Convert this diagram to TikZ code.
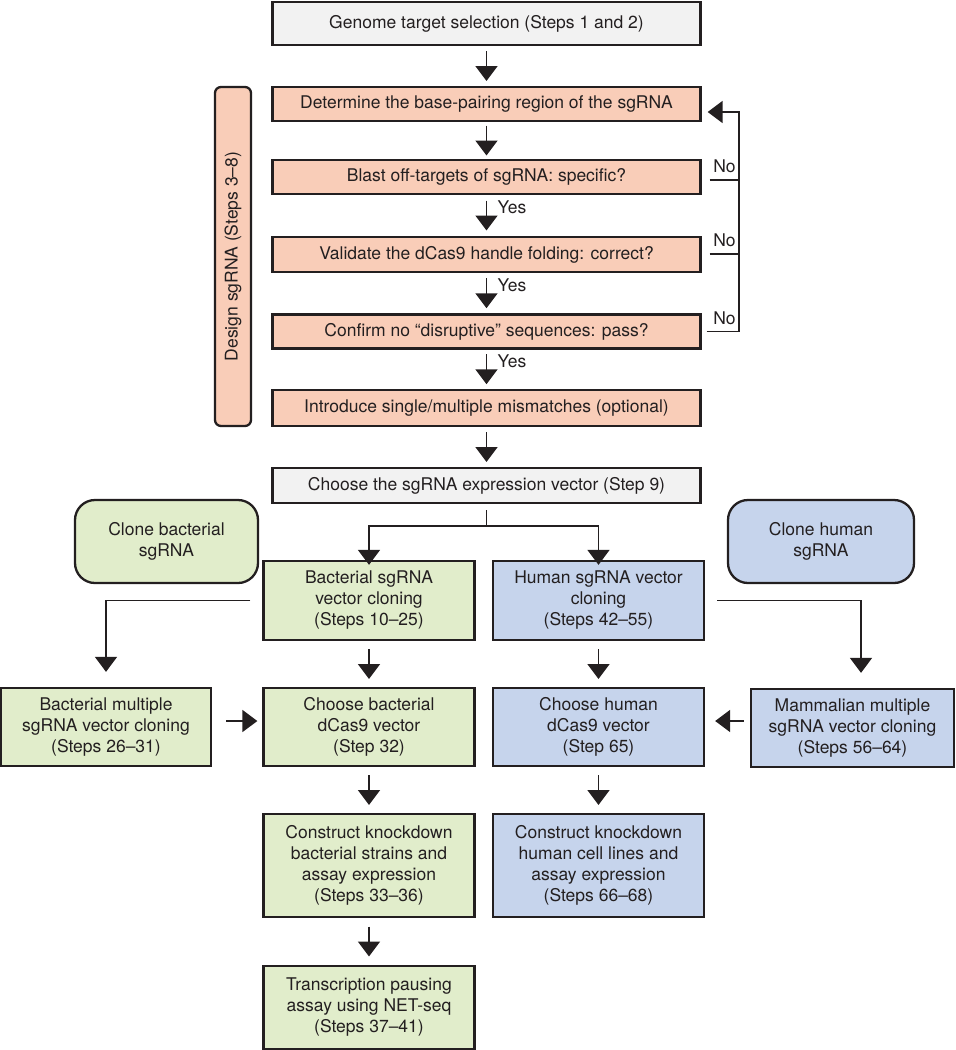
\documentclass[tikz,border=0pt]{standalone}
\usepackage{fontspec}
\setmainfont{TeX Gyre Heros}
\usetikzlibrary{arrows.meta,calc}
\definecolor{bordc}{HTML}{231F20}
\definecolor{grayf}{HTML}{F2F2F2}
\definecolor{salm}{HTML}{F9CDB8}
\definecolor{grn}{HTML}{E1EDCB}
\definecolor{blu}{HTML}{C6D4EC}
\newcommand\varr[2]{\draw[arr] ($(#1.south)!.5!(#2.north)+(0,-15)$) -- ($(#1.south)!.5!(#2.north)+(0,15)$);}
\newcommand\varrl[4]{\draw[arr] ($(#1.south)!.5!(#2.north)+(0,-15)$) coordinate (#4c) -- ($(#1.south)!.5!(#2.north)+(0,15)$);
  \node[anchor=west, inner sep=0pt] (#4) at ($(#4c)+(11,6.5)$) {#3};}
\begin{document}
\begin{tikzpicture}[x=1pt,y=-1pt,
  every node/.style={font=\fontsize{17.5}{21}\selectfont, text=bordc},
  box/.style={draw=bordc, line width=2.3pt, inner sep=0pt, align=center},
  wide/.style={box, minimum width=428pt},
  col/.style={box, minimum width=211pt},
  line/.style={draw=bordc, line width=1.8pt},
  arr/.style={line, -{Triangle[width=22pt,length=15pt]}},
  nolab/.style={anchor=south west, inner sep=0pt},
]
\useasboundingbox (0,0) rectangle (956,1050);

% main column
\node[wide, fill=grayf, minimum height=43pt] (top) at (486.5,23.5) {Genome target selection (Steps 1 and 2)};
\node[wide, fill=salm, minimum height=34pt] (det) at (486.5,104) {Determine the base-pairing region of the sgRNA};
\node[wide, fill=salm, minimum height=34pt] (blast) at (486.5,177) {Blast off-targets of sgRNA: specific?};
\node[wide, fill=salm, minimum height=35pt] (valid) at (486.5,254.5) {Validate the dCas9 handle folding: correct?};
\node[wide, fill=salm, minimum height=34pt] (confirm) at (486.5,331.5) {Confirm no “disruptive” sequences: pass?};
\node[wide, fill=salm, minimum height=36pt] (intro) at (486.5,408) {Introduce single/multiple mismatches (optional)};
\node[wide, fill=grayf, minimum height=35pt] (choose) at (486.5,485.5) {Choose the sgRNA expression vector (Step 9)};

% side label
\node[box, fill=salm, rounded corners=6pt, rotate=90, minimum width=339pt, minimum height=36pt] (design) at (233,256.5) {Design sgRNA (Steps 3–8)};

% clone headers
\node[box, fill=grn, rounded corners=20pt, minimum width=183pt, minimum height=83pt] (clb) at (166.5,541.5) {Clone bacterial\\sgRNA};
\node[box, fill=blu, rounded corners=20pt, minimum width=186pt, minimum height=83pt] (clh) at (821,541.5) {Clone human\\sgRNA};

% columns
\node[col, fill=grn, minimum height=79pt] (bsg) at (369,600.5) {Bacterial sgRNA\\vector cloning\\(Steps 10–25)};
\node[col, fill=blu, minimum height=79pt] (hsg) at (598.5,600.5) {Human sgRNA vector\\cloning\\(Steps 42–55)};
\node[box, fill=grn, minimum width=210pt, minimum height=78pt] (bmul) at (106,727) {Bacterial multiple\\sgRNA vector cloning\\(Steps 26–31)};
\node[col, fill=grn, minimum height=78pt] (bch) at (369,727) {Choose bacterial\\dCas9 vector\\(Step 32)};
\node[col, fill=blu, minimum height=78pt] (hch) at (598.5,727) {Choose human\\dCas9 vector\\(Step 65)};
\node[box, fill=blu, minimum width=203pt, minimum height=78pt] (mmul) at (852.5,728) {Mammalian multiple\\sgRNA vector cloning\\(Steps 56–64)};
\node[col, fill=grn, minimum height=103pt] (bcon) at (369,865.5) {Construct knockdown\\bacterial strains and\\assay expression\\(Steps 33–36)};
\node[col, fill=blu, minimum height=103pt] (hcon) at (598.5,865.5) {Construct knockdown\\human cell lines and\\assay expression\\(Steps 66–68)};
\node[col, fill=grn, minimum height=83pt] (trans) at (369,1007.5) {Transcription pausing\\assay using NET-seq\\(Steps 37–41)};

% vertical arrows
\varr{top}{det}
\varr{det}{blast}
\varrl{blast}{valid}{Yes}{yes1}
\varrl{valid}{confirm}{Yes}{yes2}
\varrl{confirm}{intro}{Yes}{yes3}
\varr{intro}{choose}
\varr{bsg}{bch}
\varr{hsg}{hch}
\varr{bch}{bcon}
\varr{hch}{hcon}
\varr{bcon}{trans}

% branch
\draw[line] ([yshift=-6pt]choose.south) -- ++(0,16) coordinate (brc);
\draw[arr] (brc) -| ([yshift=-5pt]bsg.north);
\draw[arr] (brc) -| ([yshift=-5pt]hsg.north);

% side branches
\draw[arr] ([xshift=-12pt]bsg.west) -| ([yshift=15pt]bmul.north);
\draw[arr] ([xshift=12pt]hsg.east) -| ([xshift=8.5pt,yshift=15pt]mmul.north);
\draw[arr] ([xshift=14pt,yshift=6pt]bmul.east) -- ([xshift=-5pt,yshift=6pt]bch.west);
\draw[arr] ([xshift=-6pt,yshift=7pt]mmul.west) -- ([xshift=10pt,yshift=6pt]hch.east);

% feedback loop
\draw[arr] ([xshift=5pt]confirm.east) coordinate (nc) -- ++(32,0) |- ([xshift=6pt,yshift=-8pt]det.east);
\draw[line] ([xshift=8pt,yshift=-3pt]blast.east) coordinate (na) -- ++(29,0);
\draw[line] ([xshift=8pt,yshift=0.5pt]valid.east) coordinate (nb) -- ++(29,0);
\node[nolab] (no1) at ($(na)+(3.5,-7)$) {No};
\node[nolab] (no2) at ($(nb)+(3.5,-7)$) {No};
\node[nolab] (no3) at ($(nc)+(6.5,-7)$) {No};
\end{tikzpicture}
\end{document}
